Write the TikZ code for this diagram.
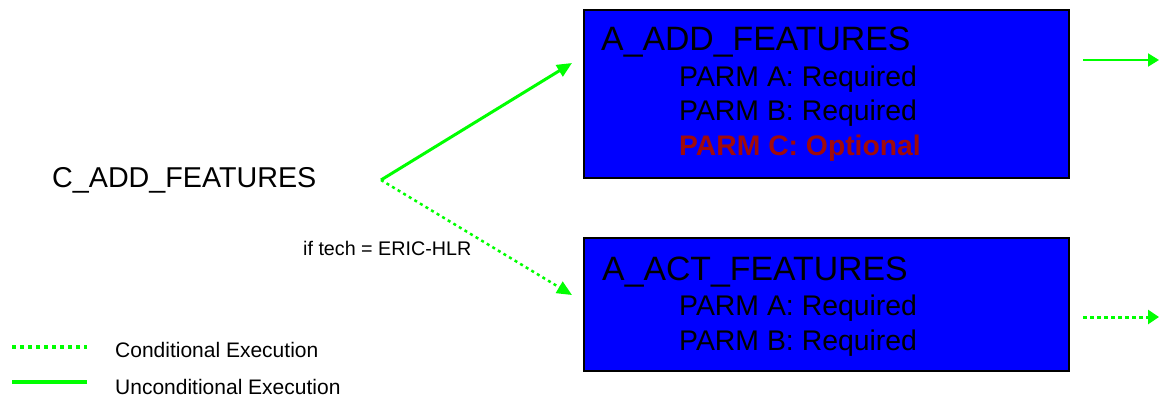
\documentclass[tikz,border=0pt]{standalone}
\usepackage{fontspec}
\setmainfont{Liberation Sans}
\usetikzlibrary{arrows.meta}
\definecolor{boxblue}{RGB}{0,0,255}
\definecolor{lgreen}{RGB}{0,255,0}
\definecolor{parmred}{RGB}{160,10,10}
\tikzset{
  box/.style={draw=black, line width=1.5pt, fill=boxblue, inner sep=0pt, outer sep=0pt, anchor=north west},
  title/.style={anchor=base west, inner sep=0pt, font=\fontsize{33.8}{38}\selectfont},
  parm/.style={anchor=base west, inner sep=0pt, font=\fontsize{28.4}{32}\selectfont},
  parmopt/.style={anchor=base west, inner sep=0pt, text=parmred, font=\bfseries\fontsize{28.3}{32}\selectfont},
  lbl/.style={anchor=base west, inner sep=0pt},
  uncond/.style={draw=lgreen, line width=3pt, -{Triangle[length=15pt,width=13pt]}},
  cond/.style={draw=lgreen, line width=2.5pt, dash pattern=on 3pt off 3.5pt, -{Triangle[length=15pt,width=13pt]}},
  outsolid/.style={draw=lgreen, line width=2pt, -{Triangle[length=11pt,width=13pt]}},
  outdot/.style={draw=lgreen, line width=3pt, dash pattern=on 3.5pt off 3.5pt, -{Triangle[length=11pt,width=14pt]}},
}
\begin{document}
\begin{tikzpicture}[x=1pt,y=-1pt]
\useasboundingbox (0,0) rectangle (1159,400);
% boxes
\node[box, minimum width=485pt, minimum height=168pt] (add) at (584,10) {};
\node[box, minimum width=485pt, minimum height=133pt] (act) at (584,238) {};
% box texts
\node[title] (addt) at (601,50) {A\_ADD\_FEATURES};
\node[parm] (adda) at (679,86) {PARM A: Required};
\node[parm] (addb) at (679,120) {PARM B: Required};
\node[parmopt] (addc) at (679,155) {PARM C: Optional};
\node[title] (actt) at (602,280) {A\_ACT\_FEATURES};
\node[parm] (acta) at (679,315) {PARM A: Required};
\node[parm] (actb) at (679,350) {PARM B: Required};
% caller
\node[lbl, font=\fontsize{28.7}{33}\selectfont] (c) at (52,187) {C\_ADD\_FEATURES};
\coordinate (cpt) at (381,180);
\coordinate (e1) at (572,63);
\coordinate (e2) at (572,295);
\draw[uncond] (cpt) -- (e1);
\draw[cond] (cpt) -- (e2);
\node[lbl, font=\fontsize{19.7}{22}\selectfont] (cond) at (303,255) {if tech = ERIC-HLR};
% outgoing
\coordinate (o1) at (1159,60);
\coordinate (o2) at (1159,317);
\draw[outsolid, shorten <=14pt] (add.east |- o1) -- (o1);
\draw[outdot, shorten <=14pt] (act.east |- o2) -- (o2);
% legend
\coordinate (l1a) at (12,347);
\coordinate (l1b) at (87,347);
\coordinate (l2a) at (12,382);
\coordinate (l2b) at (87,382);
\draw[draw=lgreen, line width=3.5pt, dash pattern=on 4pt off 4pt] (l1a) -- (l1b);
\draw[draw=lgreen, line width=4pt] (l2a) -- (l2b);
\node[lbl, font=\fontsize{21}{24}\selectfont] (lc) at (115,357) {Conditional Execution};
\node[lbl, font=\fontsize{21}{24}\selectfont] (lu) at (115,394) {Unconditional Execution};
\end{tikzpicture}
\end{document}
